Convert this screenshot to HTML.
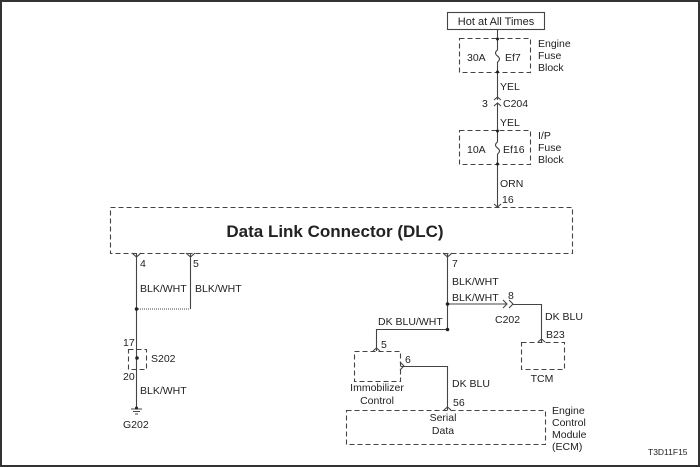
<!DOCTYPE html>
<html><head><style>body{margin:0;background:#fff}svg{display:block}text{font-family:"Liberation Sans",sans-serif;font-size:10.5px;fill:#222}</style></head>
<body>
<svg width="700" height="467" viewBox="0 0 700 467" xmlns="http://www.w3.org/2000/svg">
<rect x="1" y="1" width="698" height="465" fill="none" stroke="#333" stroke-width="2"/>
<g fill="none" stroke="#444" stroke-width="1.1">
<rect x="447.5" y="12.5" width="97" height="17"/>
<g stroke-dasharray="5,3">
<rect x="459.5" y="38.5" width="71" height="34"/>
<rect x="459.5" y="130.5" width="71" height="34"/>
<rect x="110.5" y="207.5" width="462" height="46"/>
<rect x="128.5" y="349.5" width="18" height="20"/>
<rect x="521.5" y="342.5" width="43" height="27"/>
<rect x="354.5" y="351.5" width="46" height="30"/>
<rect x="346.5" y="410.5" width="199" height="34"/>
</g>
<path d="M497.5 29V50 M497.5 62V100 M494 100l3.5-3 3.5 3 M494 106l3.5-3 3.5 3 M497.5 103V142 M497.5 154V207"/>
<path d="M497.5 50q-4 3 0 6t0 6 M497.5 142q-4 3 0 6t0 6"/>
<path d="M494 204l3.5 3 3.5-3"/>
<path d="M136.5 253V407 M132 253l4.5 4 4.5-4 M190.5 253V309 M186 253l4.5 4 4.5-4"/>
<path d="M136 309H190" stroke-dasharray="1,1"/>
<path d="M131 409h11 M133 411.5h7 M135 414h3"/>
<path d="M447.5 253V329 M443 253l4.5 4 4.5-4 M447 304H506 M503 300l4 4-4 4 M509 300l4 4-4 4 M513 304.5H541.5V342 M538 342l3.5-3 3.5 3"/>
<path d="M447 329.5H376.5V351 M373 351l3.5-3 3.5 3"/>
<path d="M400 362l4 4-4 4 M401 366.5H447.5V410 M444 410l3.5-3 3.5 3"/>
</g>
<g fill="#222">
<circle cx="497.5" cy="39" r="1.5"/><circle cx="497.5" cy="72" r="1.5"/>
<circle cx="497.5" cy="131" r="1.5"/><circle cx="497.5" cy="164" r="1.5"/>
<circle cx="136.5" cy="309" r="1.8"/><circle cx="137" cy="358" r="1.8"/>
<circle cx="447.5" cy="304" r="1.8"/><circle cx="447.5" cy="329.5" r="1.8"/>
<circle cx="136.5" cy="408" r="1.5"/>
</g>
<text x="496" y="25" text-anchor="middle" style="font-size:11px">Hot at All Times</text>
<text x="467" y="61">30A</text><text x="505" y="61">Ef7</text>
<text x="538" y="47">Engine</text><text x="538" y="59">Fuse</text><text x="538" y="71">Block</text>
<text x="500" y="90">YEL</text>
<text x="482" y="107">3</text><text x="503" y="107">C204</text>
<text x="500" y="126">YEL</text>
<text x="467" y="153">10A</text><text x="503" y="153">Ef16</text>
<text x="538" y="139">I/P</text><text x="538" y="151">Fuse</text><text x="538" y="163">Block</text>
<text x="500" y="187">ORN</text><text x="502" y="203">16</text>
<text x="335" y="237" text-anchor="middle" style="font-size:17px;font-weight:bold">Data Link Connector (DLC)</text>
<text x="140" y="267">4</text><text x="193" y="267">5</text>
<text x="140" y="292">BLK/WHT</text><text x="195" y="292">BLK/WHT</text>
<text x="123" y="346">17</text><text x="151" y="362">S202</text><text x="123" y="380">20</text>
<text x="140" y="394">BLK/WHT</text>
<text x="123" y="428">G202</text>
<text x="452" y="267">7</text>
<text x="452" y="285">BLK/WHT</text><text x="452" y="301">BLK/WHT</text>
<text x="508" y="299">8</text><text x="495" y="323">C202</text>
<text x="545" y="320">DK BLU</text><text x="546" y="338">B23</text>
<text x="542" y="382" text-anchor="middle">TCM</text>
<text x="378" y="325">DK BLU/WHT</text><text x="381" y="348">5</text>
<text x="405" y="363">6</text>
<text x="377" y="391" text-anchor="middle">Immobilizer</text><text x="377" y="404" text-anchor="middle">Control</text>
<text x="452" y="387">DK BLU</text><text x="453" y="406">56</text>
<text x="443" y="421" text-anchor="middle">Serial</text><text x="443" y="434" text-anchor="middle">Data</text>
<text x="552" y="414">Engine</text><text x="552" y="426">Control</text><text x="552" y="438">Module</text><text x="552" y="450">(ECM)</text>
<text x="648" y="455" style="font-size:8.5px">T3D11F15</text>
</svg>
</body></html>
